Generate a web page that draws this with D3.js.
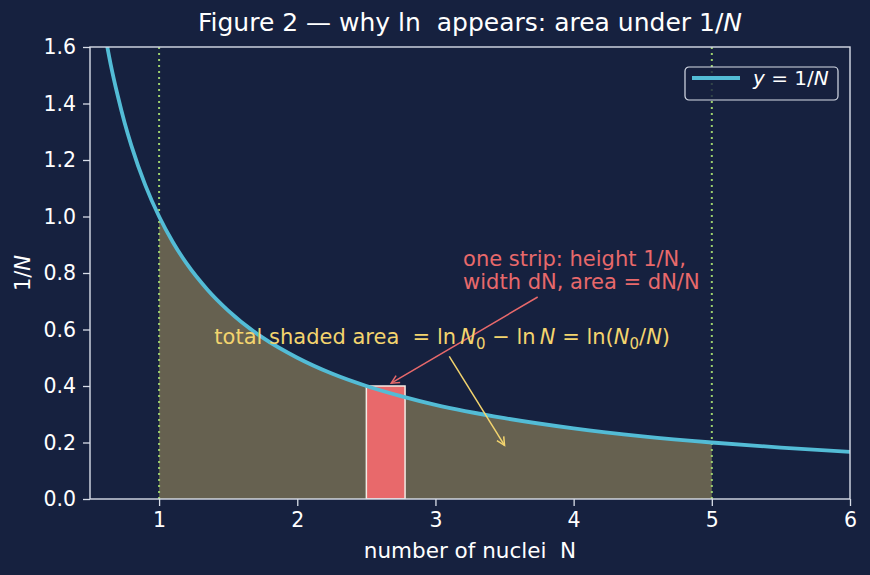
<!DOCTYPE html>
<html>
<head>
<meta charset="utf-8">
<script src="https://cdn.jsdelivr.net/npm/d3@7"></script>
<style>
  body { margin: 0; background: #16213f; }
  text { font-family: "DejaVu Sans", sans-serif; fill: #ffffff; white-space: pre; }
</style>
</head>
<body>
<div id="chart"></div>
<script>
// curve samples (y = 1/N)
const curveN = [0.6, 0.65, 0.7, 0.75, 0.8, 0.9, 1.0, 1.1, 1.2, 1.35, 1.5, 1.75, 2.0, 2.25, 2.5, 2.75, 3.0, 3.5, 4.0, 4.5, 5.0, 5.5, 6.0];
const curveY = [1.667, 1.538, 1.429, 1.333, 1.25, 1.111, 1.0, 0.909, 0.833, 0.741, 0.667, 0.571, 0.5, 0.444, 0.4, 0.364, 0.333, 0.286, 0.25, 0.222, 0.2, 0.182, 0.167];
const shadeFrom = 1, shadeTo = 5;
const markerN = [1, 5];
const strip = {n: 2.5, dn: 0.28, h: 0.4};
const xTicks = [1, 2, 3, 4, 5, 6];
const yTicks = [0, 0.2, 0.4, 0.6, 0.8, 1.0, 1.2, 1.4, 1.6];
// annotation anchors (data coords)
const stripNote = {text: ["one strip: height 1/N,", "width dN, area = dN/N"], at: [3.2, 0.745], from: [3.74, 0.715], to: [2.68, 0.41]};
const totalNote = {at: [1.4, 0.55], from: [3.1, 0.505], to: [3.5, 0.19]};

const W = 870, H = 575;
const margin = {top: 47, right: 20, bottom: 76, left: 90};
const iw = W - margin.left - margin.right, ih = H - margin.top - margin.bottom;

const bg = "#16213f", spine = "#d8dde8", cyan = "#53bcd6", red = "#e8696b", yellow = "#f3d46e", green = "#9ccf6e";

const svg = d3.select("#chart").append("svg").attr("width", W).attr("height", H);
svg.append("rect").attr("width", W).attr("height", H).attr("fill", bg);

const defs = svg.append("defs");
defs.append("clipPath").attr("id", "clip").append("rect").attr("width", iw).attr("height", ih);
function arrowHead(id, color) {
    defs.append("marker").attr("id", id).attr("viewBox", "-10 -6 12 12")
        .attr("refX", 0).attr("refY", 0).attr("markerWidth", 12).attr("markerHeight", 12)
        .attr("markerUnits", "userSpaceOnUse").attr("orient", "auto")
        .append("path").attr("d", "M-8,-4 L0,0 L-8,4").attr("fill", "none")
        .attr("stroke", color).attr("stroke-width", 1.5);
}
arrowHead("arRed", red);
arrowHead("arYel", yellow);

const g = svg.append("g").attr("transform", `translate(${margin.left},${margin.top})`);

const x = d3.scaleLinear().domain([0.5, 6]).range([0, iw]);
const y = d3.scaleLinear().domain([0, 1.6]).range([ih, 0]);

const pts = curveN.map((n, i) => ({n: n, v: curveY[i]}));
const plot = g.append("g").attr("clip-path", "url(#clip)");

// shaded area between the markers
const shadePts = pts.filter(d => d.n >= shadeFrom && d.n <= shadeTo);
plot.append("path").datum(shadePts)
    .attr("fill", yellow).attr("fill-opacity", 0.36)
    .attr("d", d3.area().x(d => x(d.n)).y0(y(0)).y1(d => y(d.v)).curve(d3.curveMonotoneX));

// vertical dotted markers
plot.selectAll(".mark").data(markerN).enter().append("line")
    .attr("x1", d => x(d)).attr("x2", d => x(d)).attr("y1", 0).attr("y2", ih)
    .attr("stroke", green).attr("stroke-width", 2).attr("stroke-dasharray", "2,4");

// one strip
plot.append("rect")
    .attr("x", x(strip.n)).attr("y", y(strip.h))
    .attr("width", x(strip.n + strip.dn) - x(strip.n)).attr("height", y(0) - y(strip.h))
    .attr("fill", red).attr("stroke", "#f4ece6").attr("stroke-width", 1.5);

// curve
plot.append("path").datum(pts)
    .attr("fill", "none").attr("stroke", cyan).attr("stroke-width", 3.8)
    .attr("d", d3.line().x(d => x(d.n)).y(d => y(d.v)).curve(d3.curveMonotoneX));

// axes
const xAxis = g.append("g").attr("transform", `translate(0,${ih})`)
    .call(d3.axisBottom(x).tickValues(xTicks).tickFormat(d3.format("d")).tickSize(7).tickPadding(6));
const yAxis = g.append("g")
    .call(d3.axisLeft(y).tickValues(yTicks).tickFormat(d3.format(".1f")).tickSize(7).tickPadding(7));
[xAxis, yAxis].forEach(a => {
    a.select(".domain").remove();
    a.selectAll("line").attr("stroke", spine).attr("stroke-width", 1.3);
    a.selectAll("text").attr("fill", "#ffffff").style("font-size", "20.5px").style("font-family", "DejaVu Sans");
});
g.append("rect").attr("width", iw).attr("height", ih).attr("fill", "none")
    .attr("stroke", spine).attr("stroke-width", 1.4);

// title + axis labels
const title = svg.append("text").attr("x", margin.left + iw / 2).attr("y", 31)
    .attr("text-anchor", "middle").style("font-size", "25px");
title.append("tspan").text("Figure 2 — why ln  appears: area under 1/");
title.append("tspan").attr("font-style", "italic").text("N");

svg.append("text").attr("x", margin.left + iw / 2).attr("y", 558)
    .attr("text-anchor", "middle").style("font-size", "21.5px").text("number of nuclei  N");

const yl = svg.append("text").attr("transform", `translate(30,${margin.top + ih / 2}) rotate(-90)`)
    .attr("text-anchor", "middle").style("font-size", "21px");
yl.append("tspan").text("1/");
yl.append("tspan").attr("font-style", "italic").text("N");

// strip annotation
g.append("line")
    .attr("x1", x(stripNote.from[0])).attr("y1", y(stripNote.from[1]))
    .attr("x2", x(stripNote.to[0])).attr("y2", y(stripNote.to[1]))
    .attr("stroke", red).attr("stroke-width", 1.5).attr("marker-end", "url(#arRed)");
const st = g.append("text").attr("x", x(stripNote.at[0])).attr("y", y(stripNote.at[1]) - 23)
    .style("font-size", "21px").style("fill", red);
stripNote.text.forEach((t, i) => {
    st.append("tspan").attr("x", x(stripNote.at[0])).attr("dy", i === 0 ? 0 : 23).text(t);
});

// total area annotation
g.append("line")
    .attr("x1", x(totalNote.from[0])).attr("y1", y(totalNote.from[1]))
    .attr("x2", x(totalNote.to[0])).attr("y2", y(totalNote.to[1]))
    .attr("stroke", yellow).attr("stroke-width", 1.5).attr("marker-end", "url(#arYel)");
const tt = g.append("text").attr("x", x(totalNote.at[0])).attr("y", y(totalNote.at[1]))
    .style("font-size", "21px").style("fill", yellow);
const parts = [
    ["total shaded area  = ln\u2009", null], ["N", "i"], ["0", "s"], [" \u2212 ln\u2009", null], ["N", "i"],
    [" = ln(", null], ["N", "i"], ["0", "s"], ["/", null], ["N", "i"], [")", null]
];
parts.forEach((p, i) => {
    const ts = tt.append("tspan").text(p[0]).style("fill", yellow);
    if (p[1] === "i") ts.attr("font-style", "italic");
    if (p[1] === "s") ts.style("font-size", "15px").attr("dy", 5);
    else if (i > 0 && parts[i - 1][1] === "s") ts.attr("dy", -5);
});

// legend
const lg = g.append("g").attr("transform", `translate(${iw - 165},${20})`);
lg.append("rect").attr("width", 153).attr("height", 33).attr("rx", 4)
    .attr("fill", bg).attr("fill-opacity", 0.8).attr("stroke", spine).attr("stroke-width", 1.2);
lg.append("line").attr("x1", 7).attr("x2", 55).attr("y1", 11).attr("y2", 11)
    .attr("stroke", cyan).attr("stroke-width", 3.8);
const lt = lg.append("text").attr("x", 68).attr("y", 18).style("font-size", "20px");
lt.append("tspan").attr("font-style", "italic").text("y");
lt.append("tspan").text(" = 1/");
lt.append("tspan").attr("font-style", "italic").text("N");
</script>
</body>
</html>
